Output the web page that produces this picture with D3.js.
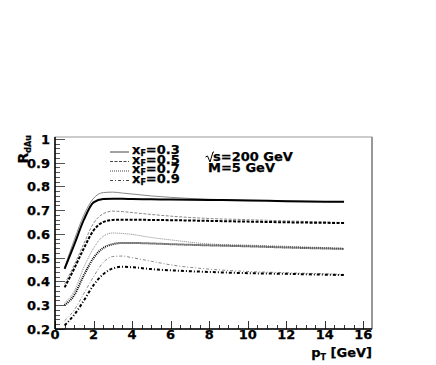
<!DOCTYPE html>
<html>
<head>
<meta charset="utf-8">
<script src="https://cdn.jsdelivr.net/npm/d3@7"></script>
<style>
  html, body { margin: 0; padding: 0; background: #fff; }
  text { font-family: 'DejaVu Sans', sans-serif; font-weight: bold; stroke: #000; stroke-width: 0.25px; }
</style>
</head>
<body>
<div id="chart"></div>
<script>
// R_dAu vs pT for several xF (thin = grey companion curve, thick = black)
const pT = [0.5, 1, 1.5, 2, 2.5, 3, 3.5, 4, 5, 6, 8, 10, 12, 15];

const xf03Thin = [0.46, 0.575, 0.68, 0.75, 0.774, 0.776, 0.772, 0.768, 0.76, 0.754, 0.746, 0.742, 0.739, 0.735];
const xf03Thick = [0.453, 0.555, 0.66, 0.733, 0.747, 0.748, 0.748, 0.747, 0.746, 0.745, 0.743, 0.741, 0.738, 0.735];
const xf05Thin = [0.39, 0.47, 0.56, 0.645, 0.685, 0.696, 0.694, 0.69, 0.682, 0.675, 0.665, 0.66, 0.655, 0.648];
const xf05Thick = [0.375, 0.455, 0.54, 0.615, 0.65, 0.659, 0.66, 0.66, 0.659, 0.658, 0.655, 0.652, 0.649, 0.646];
const xf07Thin = [0.31, 0.36, 0.46, 0.54, 0.59, 0.604, 0.602, 0.598, 0.585, 0.575, 0.558, 0.553, 0.548, 0.54];
const xf07Thick = [0.3, 0.343, 0.427, 0.499, 0.541, 0.557, 0.562, 0.562, 0.56, 0.557, 0.552, 0.548, 0.543, 0.537];
const xf09Thin = [0.235, 0.28, 0.35, 0.42, 0.48, 0.505, 0.507, 0.5, 0.485, 0.47, 0.452, 0.442, 0.437, 0.43];
const xf09Thick = [0.215, 0.26, 0.32, 0.385, 0.43, 0.455, 0.462, 0.46, 0.452, 0.447, 0.44, 0.435, 0.432, 0.427];

const legendLabels = ['0.3', '0.5', '0.7', '0.9'];
const xTicks = [0, 2, 4, 6, 8, 10, 12, 14, 16];
const yTicks = [0.2, 0.3, 0.4, 0.5, 0.6, 0.7, 0.8, 0.9, 1];

const width = 436;
const height = 365;
const frame = { left: 55, right: 372, top: 137, bottom: 329 };

const svg = d3.select('#chart')
  .append('svg')
  .attr('width', width)
  .attr('height', height);

const x = d3.scaleLinear().domain([0, 16.45]).range([frame.left, frame.right]);
const y = d3.scaleLinear().domain([0.2, 1.008]).range([frame.bottom, frame.top]);

const dashes = ['none', '3,1.5', '1,1', '3,2,1,2'];

const series = [
  { values: xf03Thin, style: 0, thick: false },
  { values: xf03Thick, style: 0, thick: true },
  { values: xf05Thin, style: 1, thick: false },
  { values: xf05Thick, style: 1, thick: true },
  { values: xf07Thin, style: 2, thick: false },
  { values: xf07Thick, style: 2, thick: true },
  { values: xf09Thin, style: 3, thick: false },
  { values: xf09Thick, style: 3, thick: true }
];

// frame (grey top/right)
svg.append('rect')
  .attr('x', frame.left)
  .attr('y', frame.top)
  .attr('width', frame.right - frame.left)
  .attr('height', frame.bottom - frame.top)
  .attr('fill', 'none')
  .attr('stroke', '#999')
  .attr('stroke-width', 1);
svg.append('line')
  .attr('x1', frame.right).attr('x2', frame.right)
  .attr('y1', frame.top).attr('y2', frame.bottom)
  .attr('stroke', '#999')
  .attr('stroke-width', 2);

// ticks, drawn inside the frame like ROOT
const yMinor = d3.range(0.2, 1.0001, 0.02);
svg.append('g')
  .selectAll('line')
  .data(yMinor)
  .enter()
  .append('line')
  .attr('x1', frame.left)
  .attr('x2', (d) => frame.left + (Math.abs(d * 10 - Math.round(d * 10)) < 1e-6 ? 10 : 5))
  .attr('y1', (d) => Math.round(y(d)) + 0.5)
  .attr('y2', (d) => Math.round(y(d)) + 0.5)
  .attr('stroke', '#555')
  .attr('stroke-width', 1);

const xMinor = d3.range(0, 16.01, 0.5);
svg.append('g')
  .selectAll('line')
  .data(xMinor)
  .enter()
  .append('line')
  .attr('x1', (d) => Math.round(x(d)) + 0.5)
  .attr('x2', (d) => Math.round(x(d)) + 0.5)
  .attr('y1', frame.bottom)
  .attr('y2', (d) => frame.bottom - (d % 2 === 0 ? 8 : 4))
  .attr('stroke', '#333')
  .attr('stroke-width', 1);

// axis lines
svg.append('line')
  .attr('x1', frame.left).attr('x2', frame.left)
  .attr('y1', frame.top).attr('y2', frame.bottom)
  .attr('stroke', '#000')
  .attr('stroke-width', 1.5);
svg.append('line')
  .attr('x1', frame.left).attr('x2', frame.right)
  .attr('y1', frame.bottom).attr('y2', frame.bottom)
  .attr('stroke', '#000')
  .attr('stroke-width', 1.5);

// tick labels
svg.append('g')
  .selectAll('text')
  .data(yTicks)
  .enter()
  .append('text')
  .attr('x', 50)
  .attr('y', (d) => y(d) + 5)
  .attr('text-anchor', 'end')
  .attr('font-size', 13)
  .text((d) => (d === 1 ? '1' : d3.format('.1f')(d)));

svg.append('g')
  .selectAll('text')
  .data(xTicks)
  .enter()
  .append('text')
  .attr('x', (d) => x(d))
  .attr('y', 339)
  .attr('text-anchor', 'middle')
  .attr('font-size', 13)
  .text((d) => d);

// axis titles
const yTitle = svg.append('text')
  .attr('transform', 'translate(28,135) rotate(-90)')
  .attr('text-anchor', 'end')
  .attr('font-size', 14)
  .text('R');
yTitle.append('tspan')
  .attr('font-size', 8)
  .attr('dy', 3)
  .text('dAu');

const xTitle = svg.append('text')
  .attr('x', frame.right)
  .attr('y', 357)
  .attr('text-anchor', 'end')
  .attr('font-size', 13)
  .text('p');
xTitle.append('tspan').attr('font-size', 8).attr('dy', 3).text('T');
xTitle.append('tspan').attr('dy', -3).text(' [GeV]');

// curves
const line = d3.line()
  .x((d) => x(d[0]))
  .y((d) => y(d[1]))
  .curve(d3.curveMonotoneX);

svg.append('g')
  .selectAll('path')
  .data(series)
  .enter()
  .append('path')
  .attr('d', (s) => line(pT.map((p, i) => [p, s.values[i]])))
  .attr('fill', 'none')
  .attr('stroke', (s) => (s.thick ? '#000' : '#888'))
  .attr('stroke-width', (s) => (s.thick ? 2 : 1))
  .attr('stroke-dasharray', (s) => dashes[s.style]);

// legend
const legendRowY = [152, 161.5, 171, 180.5];
const legendG = svg.append('g');
const item = legendG.selectAll('g')
  .data(legendLabels)
  .enter()
  .append('g')
  .attr('transform', (d, i) => `translate(0, ${legendRowY[i]})`);

item.append('line')
  .attr('x1', 110)
  .attr('x2', 129)
  .attr('y1', 0)
  .attr('y2', 0)
  .attr('stroke', '#444')
  .attr('stroke-width', 1)
  .attr('stroke-dasharray', (d, i) => dashes[i]);

const legendText = item.append('text')
  .attr('x', 132)
  .attr('y', 2)
  .attr('font-size', 13)
  .text('x');
legendText.append('tspan').attr('font-size', 8).attr('dy', 2).text('F');
legendText.append('tspan').attr('dy', -2).text((d) => '=' + d);

// sqrt(s) and mass annotation
svg.append('path')
  .attr('d', 'M205.5,157 L207.5,156 L210,162 L213,152 L214,152')
  .attr('fill', 'none')
  .attr('stroke', '#000')
  .attr('stroke-width', 1);
svg.append('text')
  .attr('x', 213)
  .attr('y', 161)
  .attr('font-size', 13)
  .text('s=200 GeV');
svg.append('text')
  .attr('x', 208)
  .attr('y', 172)
  .attr('font-size', 13)
  .text('M=5 GeV');
</script>
</body>
</html>
